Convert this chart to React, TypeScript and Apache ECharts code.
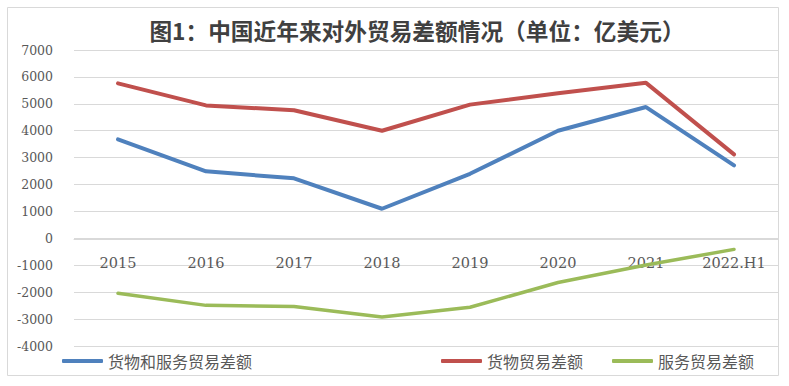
import React, { useEffect, useRef } from "react";
import * as echarts from "echarts";

const categories = ["2015", "2016", "2017", "2018", "2019", "2020", "2021", "2022.H1"];
const totalBalance = [3680, 2490, 2230, 1100, 2400, 4000, 4880, 2710];
const goodsBalance = [5760, 4940, 4760, 4000, 4970, 5390, 5780, 3120];
const servicesBalance = [-2040, -2490, -2530, -2920, -2560, -1640, -990, -410];
const seriesNames = ["货物和服务贸易差额", "货物贸易差额", "服务贸易差额"];
const titleText = "图1：中国近年来对外贸易差额情况（单位：亿美元）";

const COLORS = ["#4F81BD", "#C0504D", "#9BBB59"];
const CJK = "'Noto Sans CJK SC', 'Noto Sans', sans-serif";

export default function App() {
  const ref = useRef<HTMLDivElement>(null);
  useEffect(() => {
    if (!ref.current) return;
    const chart = echarts.init(ref.current, null, { renderer: "svg" });
    const legendBase = {
      orient: "horizontal" as const,
      top: 348,
      itemWidth: 41,
      itemHeight: 4,
      icon: "roundRect",
      textStyle: { fontFamily: CJK, fontSize: 16, color: "#595959" },
      selectedMode: false,
    };
    chart.setOption({
      animation: false,
      backgroundColor: "#ffffff",
      color: COLORS,
      graphic: [
        {
          type: "rect",
          shape: { x: 7.5, y: 7.5, width: 771, height: 368 },
          style: { fill: "none", stroke: "#d9d9d9", lineWidth: 1 },
          silent: true,
        },
        {
          type: "text",
          x: 417,
          y: 30,
          style: {
            text: titleText,
            fontFamily: CJK,
            fontSize: 22.7,
            fontWeight: "bold",
            fill: "#404040",
            textAlign: "center",
            textVerticalAlign: "middle",
          },
        },
      ],
      legend: [
        { ...legendBase, left: 57, data: [seriesNames[0]] },
        { ...legendBase, left: 436, data: [seriesNames[1]] },
        { ...legendBase, left: 607, data: [seriesNames[2]] },
      ],
      grid: { left: 74, right: 11, top: 50, bottom: 40, containLabel: false },
      xAxis: {
        type: "category",
        data: categories,
        boundaryGap: true,
        position: "bottom",
        offset: -107,
        axisLine: { onZero: false, lineStyle: { color: "#d9d9d9", width: 1 } },
        axisTick: { show: false },
        axisLabel: {
          margin: 16,
          fontFamily: "'DejaVu Serif', serif",
          fontSize: 14.5,
          color: "#595959",
        },
      },
      yAxis: {
        type: "value",
        min: -4000,
        max: 7000,
        interval: 1000,
        axisLine: { show: false },
        axisTick: { show: false },
        splitLine: { lineStyle: { color: "#d9d9d9", width: 1 } },
        axisLabel: {
          margin: 21,
          fontFamily: "'DejaVu Serif', serif",
          fontSize: 12.5,
          color: "#595959",
          formatter: (v: number) => String(v),
        },
      },
      series: [
        {
          name: seriesNames[0],
          type: "line",
          data: totalBalance,
          showSymbol: false,
          symbol: "none",
          lineStyle: { width: 4, color: COLORS[0], cap: "round" },
          itemStyle: { color: COLORS[0] },
        },
        {
          name: seriesNames[1],
          type: "line",
          data: goodsBalance,
          showSymbol: false,
          symbol: "none",
          lineStyle: { width: 4, color: COLORS[1], cap: "round" },
          itemStyle: { color: COLORS[1] },
        },
        {
          name: seriesNames[2],
          type: "line",
          data: servicesBalance,
          showSymbol: false,
          symbol: "none",
          lineStyle: { width: 3.5, color: COLORS[2], cap: "round" },
          itemStyle: { color: COLORS[2] },
        },
      ],
    });
    return () => chart.dispose();
  }, []);
  return (
    <div
      ref={ref}
      style={{ position: "fixed", left: 0, top: 0, width: 789, height: 386, background: "#fff" }}
    />
  );
}
